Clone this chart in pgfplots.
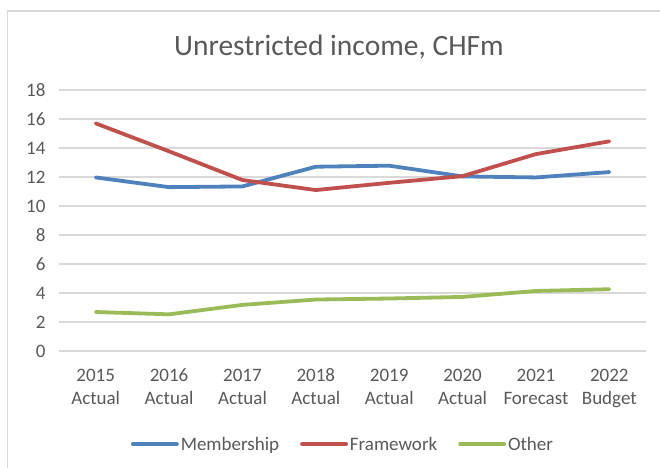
\documentclass[border=0pt]{standalone}
\usepackage{fontspec}
\setmainfont{Carlito}
\usepackage{pgfplots}
\pgfplotsset{compat=1.18}
\definecolor{cblue}{HTML}{4F81BD}
\definecolor{cred}{HTML}{C0504D}
\definecolor{cgreen}{HTML}{9BBB59}
\definecolor{cgrid}{HTML}{D9D9D9}
\definecolor{ctext}{HTML}{595959}
\begin{document}
\begin{tikzpicture}[x=1pt,y=1pt]
\path[use as bounding box] (0,0) rectangle (660,467);
\draw[cgrid, line width=1.3pt] (7.5,-10) -- (7.5,456) -- (670,456);
\node[text=ctext, font=\fontsize{29.5}{34}\selectfont, anchor=base] at (339,411) {Unrestricted income, CHFm};
\begin{axis}[
  at={(59pt,116pt)}, anchor=south west,
  scale only axis, width=587pt, height=261pt,
  xmin=-0.5, xmax=7.5, ymin=0, ymax=18,
  ytick={0,2,...,18},
  xtick={0,...,7},
  xticklabels={{\strut 2015\\Actual},{\strut 2016\\Actual},{\strut 2017\\Actual},{\strut 2018\\Actual},{\strut 2019\\Actual},{\strut 2020\\Actual},{\strut 2021\\Forecast},{\strut 2022\\Budget}},
  xticklabel style={align=center, anchor=north, text=ctext, font=\fontsize{19}{23}\selectfont, yshift=-11pt},
  yticklabel style={text=ctext, font=\fontsize{19}{22}\selectfont, xshift=-10pt},
  /pgf/number format/assume math mode=true,
  axis line style={draw=none},
  major tick length=0pt,
  ymajorgrids, grid style={cgrid, line width=1.5pt},
  legend style={at={(0.483,-0.357)}, anchor=center, draw=none, legend columns=3,
    font=\fontsize{19}{22}\selectfont, text=ctext, inner sep=0pt,
    /tikz/every odd column/.append style={column sep=1pt},
    /tikz/every even column/.append style={column sep=20pt},
    nodes={inner sep=1pt}},
  legend image code/.code={\draw[#1, line cap=round] (0pt,0pt) -- (44pt,0pt);},
  every axis plot/.append style={line width=3.8pt, line cap=round, line join=round},
]
\addplot[cblue] coordinates {(0,11.97) (1,11.30) (2,11.35) (3,12.71) (4,12.78) (5,12.04) (6,11.97) (7,12.34)};
\addplot[cred] coordinates {(0,15.70) (1,13.77) (2,11.79) (3,11.10) (4,11.60) (5,12.06) (6,13.58) (7,14.46)};
\addplot[cgreen] coordinates {(0,2.69) (1,2.53) (2,3.18) (3,3.55) (4,3.62) (5,3.73) (6,4.14) (7,4.26)};
\legend{Membership,Framework,Other}
\end{axis}
\end{tikzpicture}
\end{document}
